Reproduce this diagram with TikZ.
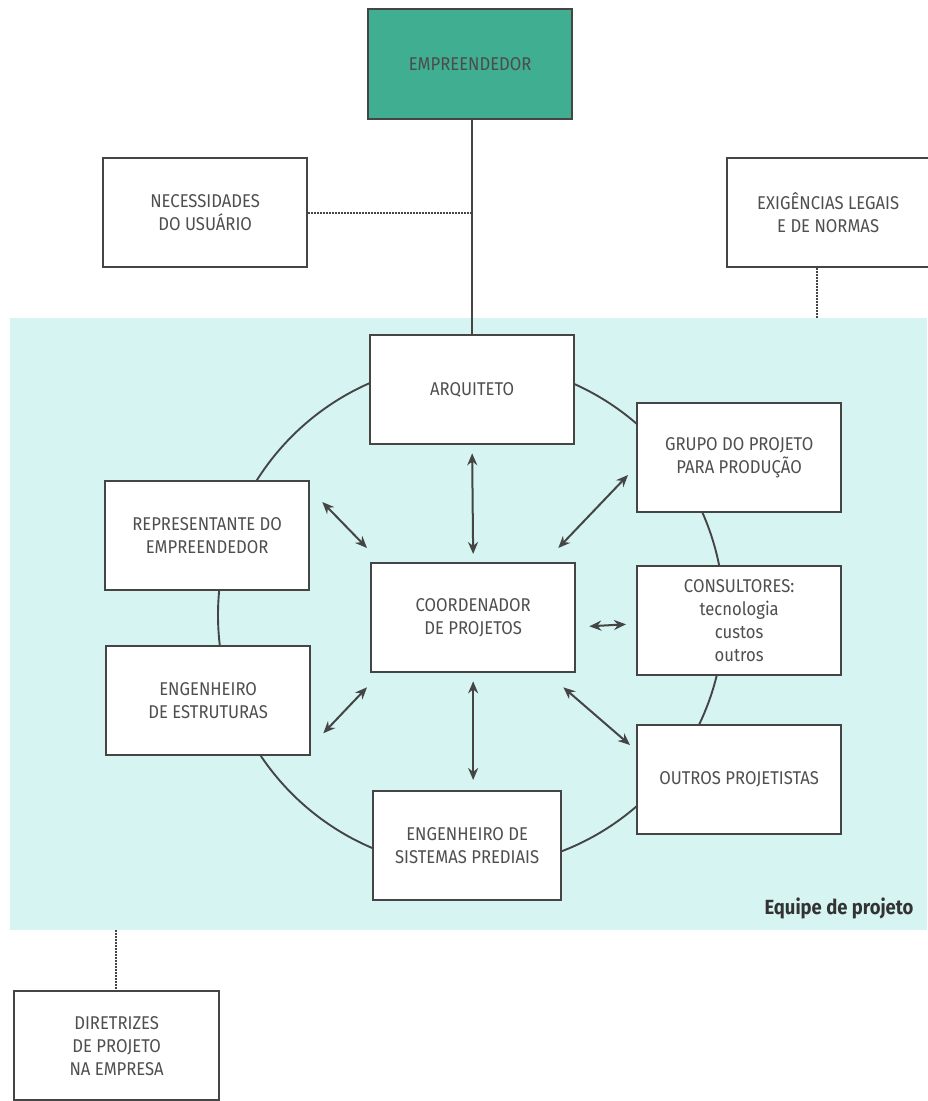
\documentclass[tikz,border=0pt]{standalone}
\usepackage{fontspec}
\setmainfont{Fira Sans}[FakeStretch=0.9]
\usetikzlibrary{arrows.meta}
\definecolor{teal1}{HTML}{3FAE91}
\definecolor{teamcyan}{HTML}{D6F5F2}
\definecolor{boxline}{HTML}{454545}
\definecolor{txt}{HTML}{4F4F4F}
\begin{document}
\begin{tikzpicture}[x=1pt,y=-1pt,
  box/.style={draw=boxline,line width=2.3pt,fill=white,minimum width=204pt,minimum height=109pt,
    inner sep=0pt,align=center,font=\fontsize{18.5}{23}\selectfont,text=txt,anchor=north west},
  link/.style={draw=boxline,line width=1.9pt},
  dotlink/.style={draw=boxline,line width=2pt,dash pattern=on 1.8pt off 1.2pt},
  both/.style={draw=boxline,line width=2pt,{Stealth[length=12pt,width=10pt]}-{Stealth[length=12pt,width=10pt]}}]
\useasboundingbox (0,0) rectangle (927,1101);
\fill[white] (0,0) rectangle (927,1101);
% team area
\fill[teamcyan] (10,318) rectangle (927,930);
\node[anchor=south east,font=\fontsize{20.5}{24}\selectfont\bfseries,text=black!80] (team) at (917,923) {Equipe de projeto};
% ring joining the team members
\draw[link] (471,615) circle [radius=253];
% outside boxes
\node[box,fill=teal1,minimum width=204pt,minimum height=110pt,text=black!70] (emp) at (367,8) {EMPREENDEDOR};
\node[box] (nec) at (102,157) {NECESSIDADES\\DO USUÁRIO};
\node[box,minimum width=202pt] (exi) at (726,157) {EXIGÊNCIAS LEGAIS\\E DE NORMAS};
\node[box,minimum width=205pt] (dir) at (13,990) {DIRETRIZES\\DE PROJETO\\NA EMPRESA};
% team boxes
\node[box] (arq) at (369,334) {ARQUITETO};
\node[box] (gru) at (636,402) {GRUPO DO PROJETO\\PARA PRODUÇÃO};
\node[box] (rep) at (104,480) {REPRESENTANTE DO\\EMPREENDEDOR};
\node[box] (coo) at (370,562) {COORDENADOR\\DE PROJETOS};
\node[box] (con) at (636,565) {CONSULTORES:\\tecnologia\\custos\\outros};
\node[box] (est) at (105,645) {ENGENHEIRO\\DE ESTRUTURAS};
\node[box] (out) at (636,724) {OUTROS PROJETISTAS};
\node[box,minimum width=188pt] (sis) at (372,790) {ENGENHEIRO DE\\SISTEMAS PREDIAIS};
% links outside the team
\draw[link] (emp.south -| arq.north) -- (arq.north);
\coordinate (jn) at (arq.north |- nec.east);
\draw[dotlink] (nec.east) -- (jn);
\coordinate (exiend) at (817,318);
\draw[dotlink] (exi.south -| exiend) -- (exiend);
\coordinate (dirend) at (116,930);
\draw[dotlink] (dirend) -- (dir.north -| dirend);
% exchanges with the coordinator
\draw[both] ([yshift=-8pt]arq.south) -- ([yshift=8pt]coo.north);
\draw[both] ([yshift=-8pt]coo.south) -- ([yshift=10pt]sis.north -| coo.south);
\draw[both] ([shift={(12,22)}]rep.north east) -- ([shift={(-3,-14)}]coo.north west);
\draw[both] ([shift={(12,-23)}]est.south east) -- ([shift={(-3,14)}]coo.south west);
\draw[both] ([shift={(-8,73)}]gru.north west) -- ([shift={(-18,-14)}]coo.north east);
\draw[both] ([shift={(13,-47)}]coo.south east) -- ([shift={(-10,-52)}]con.south west);
\draw[both] ([shift={(-13,14)}]coo.south east) -- ([shift={(-6,21)}]out.north west);
\end{tikzpicture}
\end{document}
